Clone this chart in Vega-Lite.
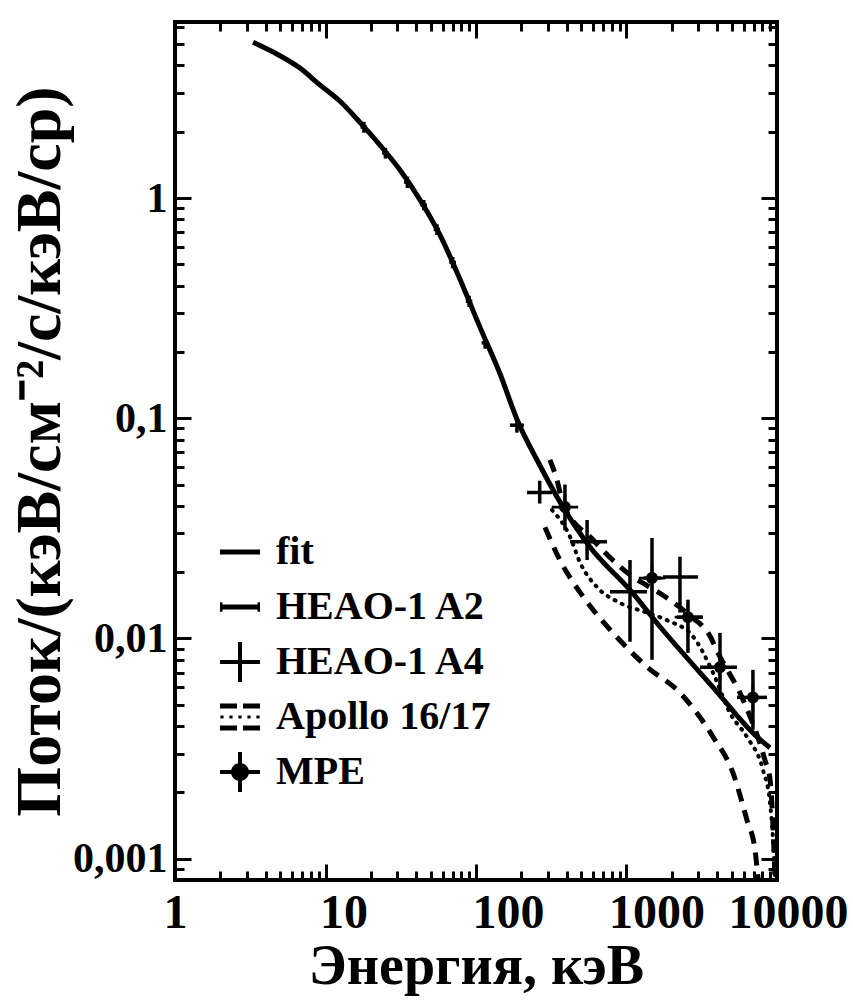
{
  "$schema": "https://vega.github.io/schema/vega-lite/v6.json",
  "width": 602,
  "height": 858,
  "autosize": {"type": "none"},
  "padding": {"left": 175, "top": 22, "right": 76, "bottom": 124},
  "background": "white",
  "config": {
    "view": {"stroke": "black", "strokeWidth": 4},
    "font": "Liberation Serif",
    "axis": {"labelFont": "Liberation Serif", "titleFont": "Liberation Serif", "labelFontWeight": "bold", "titleFontWeight": "bold", "labelColor": "black", "titleColor": "black", "tickColor": "black", "tickWidth": 3, "domain": false, "grid": false},
    "legend": {"labelFont": "Liberation Serif", "labelFontWeight": "bold", "labelColor": "black"}
  },
  "datasets": {
    "curves": [
      {"series": "fit", "x": 3.3, "y": 5.1},
      {"series": "fit", "x": 4.5, "y": 4.6},
      {"series": "fit", "x": 6.77, "y": 3.89},
      {"series": "fit", "x": 9, "y": 3.3},
      {"series": "fit", "x": 12.5, "y": 2.75},
      {"series": "fit", "x": 17, "y": 2.2},
      {"series": "fit", "x": 23, "y": 1.74},
      {"series": "fit", "x": 31, "y": 1.35},
      {"series": "fit", "x": 42.5, "y": 0.98},
      {"series": "fit", "x": 57.6, "y": 0.68},
      {"series": "fit", "x": 78, "y": 0.43},
      {"series": "fit", "x": 106, "y": 0.26},
      {"series": "fit", "x": 144, "y": 0.16},
      {"series": "fit", "x": 187, "y": 0.099},
      {"series": "fit", "x": 266, "y": 0.061},
      {"series": "fit", "x": 345, "y": 0.044},
      {"series": "fit", "x": 572, "y": 0.026},
      {"series": "fit", "x": 1055, "y": 0.0166},
      {"series": "fit", "x": 1670, "y": 0.0113},
      {"series": "fit", "x": 3760, "y": 0.006},
      {"series": "fit", "x": 7370, "y": 0.00357},
      {"series": "fit", "x": 8980, "y": 0.00319},
      {"series": "up", "x": 310, "y": 0.0647},
      {"series": "up", "x": 345, "y": 0.0525},
      {"series": "up", "x": 378, "y": 0.041},
      {"series": "up", "x": 600, "y": 0.028},
      {"series": "up", "x": 1000, "y": 0.02},
      {"series": "up", "x": 1800, "y": 0.0155},
      {"series": "up", "x": 2600, "y": 0.0128},
      {"series": "up", "x": 3600, "y": 0.0102},
      {"series": "up", "x": 4055, "y": 0.0086},
      {"series": "up", "x": 6000, "y": 0.0052},
      {"series": "up", "x": 8320, "y": 0.0028},
      {"series": "up", "x": 8980, "y": 0.0023},
      {"series": "up", "x": 9500, "y": 0.0012},
      {"series": "up", "x": 9700, "y": 0.0008},
      {"series": "mid", "x": 320, "y": 0.0383},
      {"series": "mid", "x": 422, "y": 0.0289},
      {"series": "mid", "x": 490, "y": 0.0222},
      {"series": "mid", "x": 637, "y": 0.0171},
      {"series": "mid", "x": 905, "y": 0.0145},
      {"series": "mid", "x": 1368, "y": 0.0131},
      {"series": "mid", "x": 1858, "y": 0.0121},
      {"series": "mid", "x": 2770, "y": 0.0102},
      {"series": "mid", "x": 3760, "y": 0.00698},
      {"series": "mid", "x": 4870, "y": 0.00459},
      {"series": "mid", "x": 6310, "y": 0.00357},
      {"series": "mid", "x": 8070, "y": 0.00253},
      {"series": "mid", "x": 8980, "y": 0.0018},
      {"series": "mid", "x": 9380, "y": 0.00126},
      {"series": "mid", "x": 9700, "y": 0.0008},
      {"series": "low", "x": 287, "y": 0.032},
      {"series": "low", "x": 361, "y": 0.0227},
      {"series": "low", "x": 514, "y": 0.0155},
      {"series": "low", "x": 813, "y": 0.0106},
      {"series": "low", "x": 1368, "y": 0.00743},
      {"series": "low", "x": 2266, "y": 0.00567},
      {"series": "low", "x": 3760, "y": 0.00357},
      {"series": "low", "x": 5100, "y": 0.00245},
      {"series": "low", "x": 6310, "y": 0.0015},
      {"series": "low", "x": 7140, "y": 0.0011},
      {"series": "low", "x": 7500, "y": 0.0008}
    ],
    "points": [
      {"series": "HEAO-1 A2", "x": 18, "xlo": 17.1, "xhi": 18.9, "y": 2.1, "ylo": 1.98, "yhi": 2.22},
      {"series": "HEAO-1 A2", "x": 25, "xlo": 23.8, "xhi": 26.2, "y": 1.6, "ylo": 1.51, "yhi": 1.69},
      {"series": "HEAO-1 A2", "x": 35, "xlo": 33.3, "xhi": 36.7, "y": 1.18, "ylo": 1.11, "yhi": 1.25},
      {"series": "HEAO-1 A2", "x": 45, "xlo": 42.8, "xhi": 47.2, "y": 0.93, "ylo": 0.88, "yhi": 0.98},
      {"series": "HEAO-1 A2", "x": 55, "xlo": 52.3, "xhi": 57.7, "y": 0.72, "ylo": 0.68, "yhi": 0.76},
      {"series": "HEAO-1 A2", "x": 70, "xlo": 66.5, "xhi": 73.5, "y": 0.51, "ylo": 0.48, "yhi": 0.54},
      {"series": "HEAO-1 A2", "x": 90, "xlo": 85.5, "xhi": 94.5, "y": 0.34, "ylo": 0.32, "yhi": 0.36},
      {"series": "HEAO-1 A2", "x": 115, "xlo": 109, "xhi": 121, "y": 0.22, "ylo": 0.207, "yhi": 0.233},
      {"series": "HEAO-1 A4", "x": 187, "xlo": 168, "xhi": 208, "y": 0.093, "ylo": 0.086, "yhi": 0.1},
      {"series": "HEAO-1 A4", "x": 265, "xlo": 218, "xhi": 320, "y": 0.046, "ylo": 0.041, "yhi": 0.052},
      {"series": "HEAO-1 A4", "x": 547, "xlo": 422, "xhi": 742, "y": 0.0275, "ylo": 0.0227, "yhi": 0.0345},
      {"series": "HEAO-1 A4", "x": 1055, "xlo": 777, "xhi": 1368, "y": 0.0163, "ylo": 0.00966, "yhi": 0.0227},
      {"series": "HEAO-1 A4", "x": 2266, "xlo": 1750, "xhi": 2990, "y": 0.019, "ylo": 0.0131, "yhi": 0.0235},
      {"series": "MPE", "x": 390, "xlo": 360, "xhi": 420, "y": 0.0395, "ylo": 0.031, "yhi": 0.05},
      {"series": "MPE", "x": 1477, "xlo": 1300, "xhi": 1700, "y": 0.0188, "ylo": 0.008, "yhi": 0.0286},
      {"series": "MPE", "x": 2560, "xlo": 2163, "xhi": 3220, "y": 0.0125, "ylo": 0.0086, "yhi": 0.015},
      {"series": "MPE", "x": 4180, "xlo": 3080, "xhi": 5420, "y": 0.0074, "ylo": 0.00567, "yhi": 0.0106},
      {"series": "MPE", "x": 6920, "xlo": 5420, "xhi": 8570, "y": 0.0054, "ylo": 0.00385, "yhi": 0.0072}
    ]
  },
  "resolve": {"axis": {"x": "independent", "y": "independent"}},
  "layer": [
    {
      "data": {"name": "curves"},
      "transform": [{"filter": "datum.series == 'fit'"}],
      "mark": {"type": "line", "color": "black", "strokeWidth": 5, "interpolate": "monotone", "clip": true},
      "encoding": {
        "x": {"field": "x", "type": "quantitative", "scale": {"type": "log", "domain": [1, 10000], "nice": false},
          "axis": {"orient": "bottom", "values": [1, 10, 100, 1000, 10000], "format": "d", "offset": -16,
            "tickSize": 16, "labelFontSize": 48, "labelPadding": 9, "labelFlush": false, "labelOverlap": false,
            "labelOffset": {"condition": [{"test": "datum.value == 10", "value": 18}, {"test": "datum.value == 100", "value": 32}, {"test": "datum.value == 1000", "value": 30}, {"test": "datum.value == 10000", "value": 11}], "value": 0},
            "title": "Энергия, кэВ", "titleFontSize": 56, "titlePadding": 2}},
        "y": {"field": "y", "type": "quantitative", "scale": {"type": "log", "domain": [0.0008, 6.3], "nice": false},
          "axis": {"orient": "left", "values": [0.001, 0.01, 0.1, 1], "offset": -16,
            "labelExpr": "datum.value==1?'1':datum.value==0.1?'0,1':datum.value==0.01?'0,01':'0,001'",
            "tickSize": 16, "labelFontSize": 42, "labelPadding": 8, "labelOverlap": false, "labelFlush": false, "labelBaseline": "middle",
            "title": "Поток/(кэВ/см⁻²/с/кэВ/ср)", "titleFontSize": 64, "titlePadding": 0}}
      }
    },
    {
      "data": {"name": "curves"},
      "transform": [{"filter": "datum.series == 'low'"}],
      "mark": {"type": "line", "color": "black", "strokeWidth": 5, "strokeDash": [13, 9], "interpolate": "monotone", "clip": true},
      "encoding": {
        "x": {"field": "x", "type": "quantitative", "scale": {"type": "log", "domain": [1, 10000], "nice": false},
          "axis": {"orient": "top", "values": [1, 10, 100, 1000, 10000], "labels": false, "title": null, "offset": -16, "tickSize": 16}},
        "y": {"field": "y", "type": "quantitative", "scale": {"type": "log", "domain": [0.0008, 6.3], "nice": false},
          "axis": {"orient": "right", "values": [0.001, 0.01, 0.1, 1], "labels": false, "title": null, "offset": -16, "tickSize": 16}}
      }
    },
    {
      "data": {"name": "curves"},
      "transform": [{"filter": "datum.series == 'up'"}],
      "mark": {"type": "line", "color": "black", "strokeWidth": 5, "strokeDash": [13, 9], "interpolate": "monotone", "clip": true},
      "encoding": {
        "x": {"field": "x", "type": "quantitative",
          "axis": {"orient": "bottom", "values": [2,3,4,5,6,7,8,9,20,30,40,50,60,70,80,90,200,300,400,500,600,700,800,900,2000,3000,4000,5000,6000,7000,8000,9000], "labels": false, "title": null, "offset": -9, "tickSize": 9}},
        "y": {"field": "y", "type": "quantitative",
          "axis": {"orient": "left", "values": [0.0008,0.0009,0.002,0.003,0.004,0.005,0.006,0.007,0.008,0.009,0.02,0.03,0.04,0.05,0.06,0.07,0.08,0.09,0.2,0.3,0.4,0.5,0.6,0.7,0.8,0.9,2,3,4,5,6], "labels": false, "title": null, "offset": -9, "tickSize": 9}}
      }
    },
    {
      "data": {"name": "curves"},
      "transform": [{"filter": "datum.series == 'mid'"}],
      "mark": {"type": "line", "color": "black", "strokeWidth": 4, "strokeDash": [1, 7], "strokeCap": "round", "interpolate": "monotone", "clip": true},
      "encoding": {
        "x": {"field": "x", "type": "quantitative",
          "axis": {"orient": "top", "values": [2,3,4,5,6,7,8,9,20,30,40,50,60,70,80,90,200,300,400,500,600,700,800,900,2000,3000,4000,5000,6000,7000,8000,9000], "labels": false, "title": null, "offset": -9, "tickSize": 9}},
        "y": {"field": "y", "type": "quantitative",
          "axis": {"orient": "right", "values": [0.0008,0.0009,0.002,0.003,0.004,0.005,0.006,0.007,0.008,0.009,0.02,0.03,0.04,0.05,0.06,0.07,0.08,0.09,0.2,0.3,0.4,0.5,0.6,0.7,0.8,0.9,2,3,4,5,6], "labels": false, "title": null, "offset": -9, "tickSize": 9}}
      }
    },
    {
      "data": {"name": "points"},
      "mark": {"type": "rule", "color": "black", "strokeWidth": 3.5},
      "encoding": {
        "x": {"field": "xlo", "type": "quantitative", "axis": null},
        "x2": {"field": "xhi"},
        "y": {"field": "y", "type": "quantitative", "axis": null}
      }
    },
    {
      "data": {"name": "points"},
      "mark": {"type": "rule", "color": "black", "strokeWidth": 3.5},
      "encoding": {
        "x": {"field": "x", "type": "quantitative", "axis": null},
        "y": {"field": "ylo", "type": "quantitative", "axis": null},
        "y2": {"field": "yhi"}
      }
    },
    {
      "data": {"name": "points"},
      "transform": [{"filter": "datum.series == 'MPE'"}],
      "mark": {"type": "point", "filled": true, "fill": "black", "opacity": 1, "size": 700},
      "encoding": {
        "x": {"field": "x", "type": "quantitative", "axis": null},
        "y": {"field": "y", "type": "quantitative", "axis": null},
        "shape": {"field": "series", "type": "nominal",
          "scale": {"domain": ["fit", "HEAO-1 A2", "HEAO-1 A4", "Apollo 16/17", "MPE"],
            "range": [
              "M-1,-0.13H1V0.13H-1Z",
              "M-1,-0.12H1V0.12H-1ZM-1,-0.24H-0.88V0.24H-1ZM0.88,-0.24H1V0.24H0.88Z",
              "M-1,-0.1H1V0.1H-1ZM-0.1,-1H0.1V1H-0.1Z",
              "M-1,-0.68H-0.15V-0.42H-1ZM0.15,-0.68H1V-0.42H0.15ZM-1,0.42H-0.15V0.68H-1ZM0.15,0.42H1V0.68H0.15ZM-0.98,-0.08H-0.82V0.08H-0.98ZM-0.53,-0.08H-0.37V0.08H-0.53ZM-0.08,-0.08H0.08V0.08H-0.08ZM0.37,-0.08H0.53V0.08H0.37ZM0.82,-0.08H0.98V0.08H0.82Z",
              "M-1,-0.1H1V0.1H-1ZM-0.1,-1H0.1V1H-0.1ZM0.45,0A0.45,0.45,0,1,1,-0.45,0A0.45,0.45,0,1,1,0.45,0Z"
            ]},
          "legend": {"orient": "none", "legendX": 45, "legendY": 510, "title": null, "padding": 0,
            "labelFontSize": 40, "labelLimit": 0, "symbolSize": 1600, "symbolStrokeWidth": 0, "symbolFillColor": "black", "symbolOpacity": 1,
            "rowPadding": 15, "labelOffset": 16, "symbolOffset": 0}}
      }
    }
  ]
}
